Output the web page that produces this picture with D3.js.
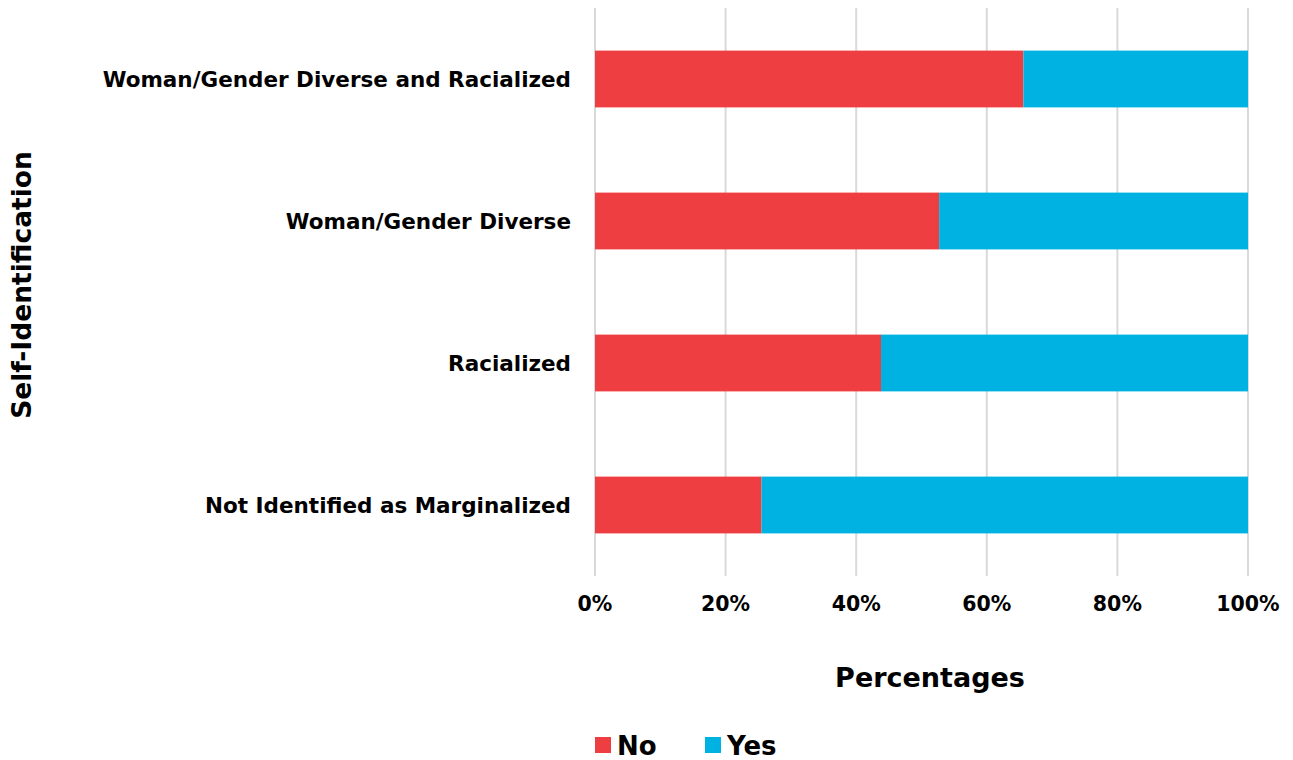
<!DOCTYPE html>
<html><head><meta charset="utf-8">
<script src="https://cdn.jsdelivr.net/npm/d3@7"></script>
<style>body{margin:0;background:#fff}svg{display:block}text{font-family:"DejaVu Sans",sans-serif;font-weight:bold;fill:#000}</style>
</head><body><svg id="c" width="1293" height="760"></svg>
<script>
const categories = ["Woman/Gender Diverse and Racialized","Woman/Gender Diverse","Racialized","Not Identified as Marginalized"];
const noValues = [65.6, 52.7, 43.8, 25.5];
const yesValues = [34.4, 47.3, 56.2, 74.5];
const seriesNames = ["No","Yes"];
const colors = ["#EF3E42","#00B2E2"];
const ticks = [0,20,40,60,80,100];

const svg = d3.select("#c");
const x = d3.scaleLinear().domain([0,100]).range([595,1248]);
const y = d3.scaleBand().domain(categories).range([8,576]).paddingInner(0.6).paddingOuter(0.3);

svg.append("g").selectAll("line").data(ticks).join("line")
  .attr("x1",d=>x(d)).attr("x2",d=>x(d)).attr("y1",8).attr("y2",576)
  .attr("stroke","#D9D9D9").attr("stroke-width",2);

const rows = categories.map((c,i)=>({c, vals:[noValues[i], yesValues[i]]}));
rows.forEach(r=>{
  let acc=0;
  r.vals.forEach((v,j)=>{
    svg.append("rect").attr("x",x(acc)).attr("y",y(r.c)).attr("width",x(acc+v)-x(acc)).attr("height",y.bandwidth()).attr("fill",colors[j]);
    acc+=v;
  });
});

svg.append("g").selectAll("text").data(categories).join("text")
  .attr("x",571).attr("y",d=>y(d)+y.bandwidth()/2).attr("dy","0.35em")
  .attr("text-anchor","end").attr("font-size",21.5).text(d=>d);

svg.append("g").selectAll("text").data(ticks).join("text")
  .attr("x",d=>x(d)).attr("y",611).attr("text-anchor","middle").attr("font-size",20.5).text(d=>d+"%");

svg.append("text").attr("x",930).attr("y",687).attr("text-anchor","middle").attr("font-size",27).text("Percentages");
svg.append("text").attr("transform","translate(31,285) rotate(-90)").attr("text-anchor","middle").attr("font-size",26.5).text("Self-Identification");

const lg = [{n:seriesNames[0],c:colors[0],x:595},{n:seriesNames[1],c:colors[1],x:705}];
lg.forEach(d=>{
  svg.append("rect").attr("x",d.x).attr("y",737).attr("width",16).attr("height",16).attr("fill",d.c);
  svg.append("text").attr("x",d.x+22).attr("y",755).attr("font-size",26).text(d.n);
});
</script></body></html>
